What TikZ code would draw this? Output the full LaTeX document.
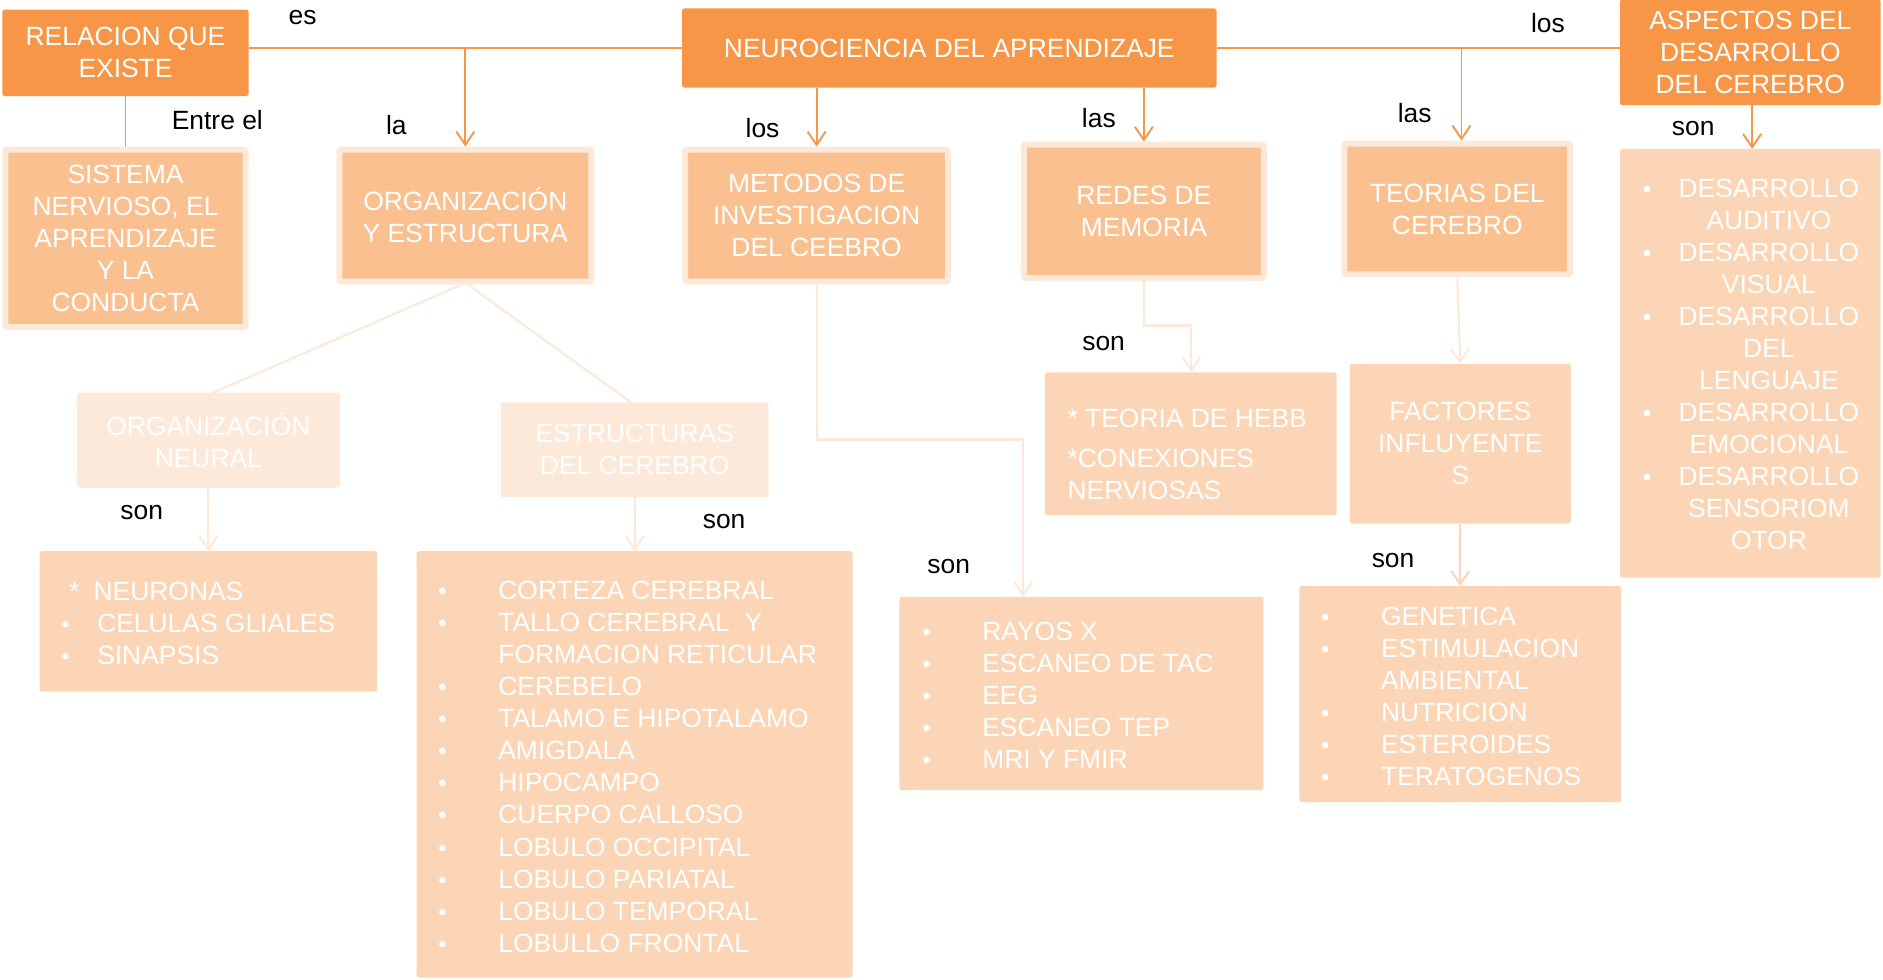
\documentclass[tikz,border=0pt]{standalone}
\usepackage{fontspec}
\setmainfont{Liberation Sans}
\usetikzlibrary{arrows.meta}
\definecolor{orgD}{HTML}{F79646}
\definecolor{orgM}{HTML}{FAC090}
\definecolor{orgP}{HTML}{FBD5B5}
\definecolor{orgL}{HTML}{FDE9D9}
\newcommand\bulsym{{\fontsize{20}{20}\selectfont •}}
\newcommand\bitem[2]{\makebox[#1][l]{\bulsym}#2}
\newcommand\nitem[2]{\makebox[#1][l]{}#2}
\begin{document}
\begin{tikzpicture}[x=1pt,y=-1pt,
  every node/.style={font=\fontsize{22}{26.7}\selectfont, inner sep=0pt, outer sep=0pt},
  dbox/.style={fill=orgD, text=white, rounded corners=2pt, align=center},
  mbox/.style={fill=orgM, draw=orgL, line width=5pt, text=white, rounded corners=2pt, align=center, outer sep=2.5pt},
  pbox/.style={fill=orgL, text=white, rounded corners=2pt, align=center},
  lbox/.style={fill=orgP, rounded corners=2pt},
  ltext/.style={text=white, align=left, anchor=west},
  lbl/.style={text=black},
  conD/.style={draw=orgD, line width=1.6pt},
  conL/.style={draw=orgL, line width=1.8pt},
  conP/.style={draw=orgP, line width=1.8pt},
  tip/.style={-{Straight Barb[length=11pt,width=15pt]}}
]
\useasboundingbox (0,0) rectangle (1568,816);

% top row
\node[dbox, minimum width=205pt, minimum height=72pt] (rel) at (104.5,44) {RELACION QUE\\EXISTE};
\node[dbox, minimum width=445pt, minimum height=66pt] (neuro) at (790.5,40) {NEUROCIENCIA DEL APRENDIZAJE};
\node[dbox, minimum width=217pt, minimum height=88pt] (asp) at (1457.5,43.5) {ASPECTOS DEL\\DESARROLLO\\DEL CEREBRO};

% second row
\node[mbox, minimum width=200pt, minimum height=148pt] (sist) at (104.5,198.5) {SISTEMA\\NERVIOSO, EL\\APRENDIZAJE\\Y LA\\CONDUCTA};
\node[mbox, minimum width=210pt, minimum height=110pt] (orgest) at (387.5,179.5) {ORGANIZACIÓN\\Y ESTRUCTURA};
\node[mbox, minimum width=219pt, minimum height=110pt] (met) at (680,179.5) {METODOS DE\\INVESTIGACION\\DEL CEEBRO};
\node[mbox, minimum width=200pt, minimum height=111pt] (redes) at (952.5,176) {REDES DE\\MEMORIA};
\node[mbox, minimum width=188pt, minimum height=109pt] (teo) at (1213.5,174) {TEORIAS DEL\\CEREBRO};

% third row
\node[pbox, minimum width=219pt, minimum height=79pt] (orgn) at (173.5,366.5) {ORGANIZACIÓN\\NEURAL};
\node[pbox, minimum width=223pt, minimum height=79pt] (estr) at (528.5,374.5) {ESTRUCTURAS\\DEL CEREBRO};
\node[lbox, minimum width=243pt, minimum height=119pt] (hebb) at (991.5,369.5) {};
\node[ltext] (hebbt) at (889,378.5) {* TEORIA DE HEBB\\[6pt]*CONEXIONES\\NERVIOSAS};
\node[lbox, text=white, align=center, minimum width=184pt, minimum height=133pt] (fact) at (1216,369.5) {FACTORES\\INFLUYENTE\\S};

% list boxes
\node[lbox, minimum width=281pt, minimum height=117pt] (neur) at (173.5,517.5) {};
\node[ltext] (neurt) at (51,519) {\makebox[6.7pt][l]{}\makebox[20.3pt][l]{*}NEURONAS\\
  \bitem{30pt}{CELULAS GLIALES}\\
  \bitem{30pt}{SINAPSIS}};

\node[lbox, minimum width=363pt, minimum height=355pt] (estl) at (528.5,636.5) {};
\node[ltext] (estlt) at (365,638.5) {\bitem{50pt}{CORTEZA CEREBRAL}\\
  \bitem{50pt}{TALLO CEREBRAL\ \ Y}\\
  \nitem{50pt}{FORMACION RETICULAR}\\
  \bitem{50pt}{CEREBELO}\\
  \bitem{50pt}{TALAMO E HIPOTALAMO}\\
  \bitem{50pt}{AMIGDALA}\\
  \bitem{50pt}{HIPOCAMPO}\\
  \bitem{50pt}{CUERPO CALLOSO}\\
  \bitem{50pt}{LOBULO OCCIPITAL}\\
  \bitem{50pt}{LOBULO PARIATAL}\\
  \bitem{50pt}{LOBULO TEMPORAL}\\
  \bitem{50pt}{LOBULLO FRONTAL}};

\node[lbox, minimum width=303pt, minimum height=161pt] (ray) at (900.5,577.5) {};
\node[ltext] (rayt) at (768,579) {\bitem{50pt}{RAYOS X}\\
  \bitem{50pt}{ESCANEO DE TAC}\\
  \bitem{50pt}{EEG}\\
  \bitem{50pt}{ESCANEO TEP}\\
  \bitem{50pt}{MRI Y FMIR}};

\node[lbox, minimum width=268pt, minimum height=180pt] (gen) at (1216,578) {};
\node[ltext] (gent) at (1100,580) {\bitem{50pt}{GENETICA}\\
  \bitem{50pt}{ESTIMULACION}\\
  \nitem{50pt}{AMBIENTAL}\\
  \bitem{50pt}{NUTRICION}\\
  \bitem{50pt}{ESTEROIDES}\\
  \bitem{50pt}{TERATOGENOS}};

\node[lbox, minimum width=217pt, minimum height=357pt] (aspl) at (1457.5,302.5) {};
\node[ltext] (asplt) at (1368,303.5) {\bitem{29pt}{\makebox[152pt][c]{DESARROLLO}}\\
  \nitem{29pt}{\makebox[152pt][c]{AUDITIVO}}\\
  \bitem{29pt}{\makebox[152pt][c]{DESARROLLO}}\\
  \nitem{29pt}{\makebox[152pt][c]{VISUAL}}\\
  \bitem{29pt}{\makebox[152pt][c]{DESARROLLO}}\\
  \nitem{29pt}{\makebox[152pt][c]{DEL}}\\
  \nitem{29pt}{\makebox[152pt][c]{LENGUAJE}}\\
  \bitem{29pt}{\makebox[152pt][c]{DESARROLLO}}\\
  \nitem{29pt}{\makebox[152pt][c]{EMOCIONAL}}\\
  \bitem{29pt}{\makebox[152pt][c]{DESARROLLO}}\\
  \nitem{29pt}{\makebox[152pt][c]{SENSORIOM}}\\
  \nitem{29pt}{\makebox[152pt][c]{OTOR}}};

% labels
\node[lbl] (l1) at (252,15) {es};
\node[lbl] (l2) at (181,100) {Entre el};
\node[lbl] (l3) at (330,104) {la};
\node[lbl] (l4) at (635,107) {los};
\node[lbl] (l5) at (915,98) {las};
\node[lbl] (l6) at (1178,94) {las};
\node[lbl] (l7) at (1289,19) {los};
\node[lbl] (l8) at (1410,107) {son};
\node[lbl] (l9) at (118,427) {son};
\node[lbl] (l10) at (603,434) {son};
\node[lbl] (l11) at (919,286) {son};
\node[lbl] (l12) at (790,472) {son};
\node[lbl] (l13) at (1160,467) {son};

% connectors (dark)
\draw[conD] (neuro.west) -- (neuro.west -| rel.east);
\draw[conD] (neuro.east) -- (neuro.east -| asp.west);
\draw[conD] (rel.south) -- (sist.north);
\draw[conD, tip] (orgest.north |- neuro.west) -- (orgest.north);
\draw[conD, tip] (met.north |- neuro.south) -- (met.north);
\draw[conD, tip] (redes.north |- neuro.south) -- (redes.north);
\draw[conD, tip] ([xshift=3.5pt]teo.north |- neuro.east) -- ([xshift=3.5pt]teo.north);
\draw[conD, tip] ([xshift=1.5pt]asp.south) -- ([xshift=1.5pt]aspl.north);

% connectors (light)
\draw[conL] ([xshift=-3pt]orgest.south) -- ([xshift=4pt]orgn.north);
\draw[conL] ([xshift=2pt]orgest.south) -- ([xshift=-3pt]estr.north);
\draw[conL, tip] (orgn.south) -- (orgn.south |- neur.north);
\draw[conL, tip] (estr.south) -- (estr.south |- estl.north);
\coordinate (m1) at (852,366);
\draw[conL, tip] (met.south) |- (m1) -- (m1 |- ray.north);
\coordinate (r1) at (992,271);
\draw[conL, tip] (redes.south) |- (r1) -- (r1 |- hebb.north);
\draw[conL, tip] (teo.south) -- (fact.north);
\draw[conP, tip] (fact.south) -- (gen.north);
\end{tikzpicture}
\end{document}
